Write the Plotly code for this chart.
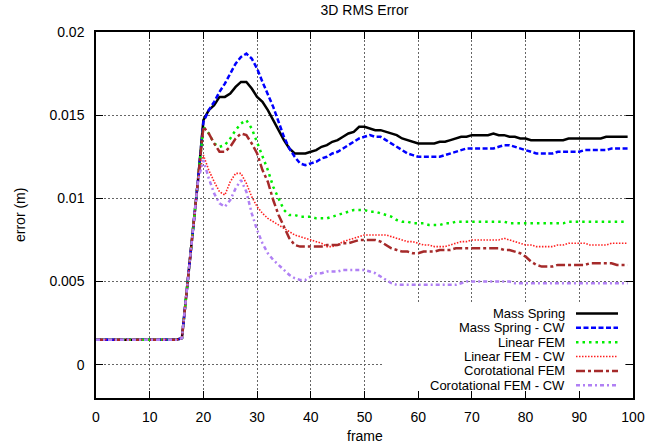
import plotly.graph_objects as go

frames = list(range(100))

start = [0.0015] * 16 + [0.0016, 0.0047, 0.0079, 0.0111]

mass_spring = start + [
    0.0147, 0.0153, 0.0156, 0.0161, 0.0161, 0.0163, 0.0167, 0.0170, 0.0170, 0.0166,
    0.0161, 0.0158, 0.0153, 0.0147, 0.0141, 0.0135, 0.0130, 0.0127, 0.0127, 0.0127,
    0.0128, 0.0129, 0.0131, 0.0132, 0.0134, 0.0135, 0.0137, 0.0139, 0.0140, 0.0143,
    0.0143, 0.0142, 0.0141, 0.0141, 0.0140, 0.0139, 0.0138, 0.0136, 0.0135, 0.0134,
    0.0133, 0.0133, 0.0133, 0.0133, 0.0134, 0.0134, 0.0135, 0.0136, 0.0137, 0.0137,
    0.0138, 0.0138, 0.0138, 0.0138, 0.0139, 0.0138, 0.0138, 0.0137, 0.0137, 0.0136,
    0.0136, 0.0135, 0.0135, 0.0135, 0.0135, 0.0135, 0.0135, 0.0135, 0.0136, 0.0136,
    0.0136, 0.0136, 0.0136, 0.0136, 0.0136, 0.0137, 0.0137, 0.0137, 0.0137, 0.0137,
]

mass_spring_cw = start + [
    0.0146, 0.0153, 0.0158, 0.0164, 0.0169, 0.0175, 0.0181, 0.0185, 0.0187, 0.0184,
    0.0178, 0.0170, 0.0163, 0.0155, 0.0146, 0.0137, 0.0130, 0.0125, 0.0121, 0.0120,
    0.0121, 0.0122, 0.0124, 0.0125, 0.0127, 0.0128, 0.0130, 0.0132, 0.0134, 0.0136,
    0.0137, 0.0138, 0.0137, 0.0137, 0.0135, 0.0133, 0.0131, 0.0129, 0.0127, 0.0126,
    0.0125, 0.0125, 0.0125, 0.0125, 0.0125, 0.0126, 0.0127, 0.0128, 0.0129, 0.0130,
    0.0130, 0.0130, 0.0130, 0.0130, 0.0130, 0.0131, 0.0132, 0.0132, 0.0131, 0.0130,
    0.0129, 0.0128, 0.0127, 0.0127, 0.0127, 0.0127, 0.0128, 0.0128, 0.0128, 0.0128,
    0.0128, 0.0129, 0.0129, 0.0129, 0.0129, 0.0129, 0.0130, 0.0130, 0.0130, 0.0130,
]

linear_fem = start + [
    0.0143, 0.0139, 0.0133, 0.0131, 0.0132, 0.0136, 0.0141, 0.0145, 0.0147, 0.0142,
    0.0134, 0.0125, 0.0117, 0.0107, 0.0100, 0.0093, 0.0090, 0.0090, 0.0089, 0.0089,
    0.0089, 0.0088, 0.0088, 0.0088, 0.0089, 0.0090, 0.0091, 0.0092, 0.0093, 0.0093,
    0.0093, 0.0092, 0.0092, 0.0091, 0.0090, 0.0089, 0.0087, 0.0086, 0.0086, 0.0085,
    0.0085, 0.0085, 0.0084, 0.0084, 0.0084, 0.0085, 0.0085, 0.0086, 0.0086, 0.0086,
    0.0086, 0.0086, 0.0086, 0.0086, 0.0086, 0.0086, 0.0086, 0.0085, 0.0085, 0.0085,
    0.0085, 0.0085, 0.0085, 0.0085, 0.0085, 0.0085, 0.0085, 0.0085, 0.0086, 0.0086,
    0.0086, 0.0086, 0.0086, 0.0086, 0.0086, 0.0086, 0.0086, 0.0086, 0.0086, 0.0086,
]

linear_fem_cw = start + [
    0.0126, 0.0117, 0.0110, 0.0104, 0.0102, 0.0110, 0.0115, 0.0115, 0.0109, 0.0101,
    0.0095, 0.0091, 0.0088, 0.0086, 0.0084, 0.0082, 0.0080, 0.0078, 0.0077, 0.0076,
    0.0075, 0.0074, 0.0073, 0.0071, 0.0071, 0.0072, 0.0074, 0.0075, 0.0076, 0.0077,
    0.0078, 0.0078, 0.0078, 0.0078, 0.0078, 0.0077, 0.0076, 0.0075, 0.0074, 0.0074,
    0.0073, 0.0072, 0.0072, 0.0071, 0.0071, 0.0071, 0.0072, 0.0073, 0.0074, 0.0074,
    0.0075, 0.0075, 0.0075, 0.0075, 0.0075, 0.0075, 0.0076, 0.0075, 0.0074, 0.0073,
    0.0072, 0.0072, 0.0071, 0.0071, 0.0071, 0.0071, 0.0072, 0.0072, 0.0073, 0.0073,
    0.0073, 0.0073, 0.0072, 0.0072, 0.0072, 0.0072, 0.0073, 0.0073, 0.0073, 0.0073,
]

corotational_fem = start + [
    0.0143, 0.0139, 0.0133, 0.0128, 0.0128, 0.0131, 0.0136, 0.0139, 0.0138, 0.0133,
    0.0127, 0.0117, 0.0110, 0.0099, 0.0090, 0.0083, 0.0076, 0.0072, 0.0071, 0.0071,
    0.0071, 0.0071, 0.0071, 0.0072, 0.0072, 0.0072, 0.0073, 0.0073, 0.0074, 0.0075,
    0.0075, 0.0075, 0.0075, 0.0074, 0.0072, 0.0070, 0.0069, 0.0068, 0.0068, 0.0067,
    0.0067, 0.0068, 0.0068, 0.0068, 0.0069, 0.0069, 0.0069, 0.0070, 0.0070, 0.0070,
    0.0070, 0.0070, 0.0070, 0.0070, 0.0070, 0.0070, 0.0069, 0.0069, 0.0068, 0.0067,
    0.0065, 0.0062, 0.0060, 0.0059, 0.0059, 0.0059, 0.0060, 0.0060, 0.0060, 0.0060,
    0.0060, 0.0060, 0.0061, 0.0061, 0.0061, 0.0061, 0.0061, 0.0060, 0.0060, 0.0060,
]

corotational_fem_cw = start + [
    0.0123, 0.0112, 0.0103, 0.0097, 0.0095, 0.0099, 0.0106, 0.0111, 0.0104, 0.0091,
    0.0081, 0.0073, 0.0067, 0.0063, 0.0060, 0.0057, 0.0054, 0.0052, 0.0051, 0.0051,
    0.0053, 0.0055, 0.0055, 0.0056, 0.0056, 0.0056, 0.0057, 0.0057, 0.0057, 0.0057,
    0.0057, 0.0056, 0.0055, 0.0053, 0.0051, 0.0049, 0.0048, 0.0048, 0.0048, 0.0048,
    0.0048, 0.0048, 0.0048, 0.0048, 0.0048, 0.0048, 0.0048, 0.0048, 0.0049, 0.0050,
    0.0050, 0.0050, 0.0050, 0.0050, 0.0050, 0.0050, 0.0050, 0.0050, 0.0049, 0.0049,
    0.0049, 0.0049, 0.0049, 0.0049, 0.0049, 0.0049, 0.0049, 0.0049, 0.0049, 0.0049,
    0.0049, 0.0049, 0.0049, 0.0049, 0.0049, 0.0049, 0.0049, 0.0049, 0.0049, 0.0049,
]

names = ["Mass Spring", "Mass Spring - CW", "Linear FEM", "Linear FEM - CW",
         "Corotational FEM", "Corotational FEM - CW"]
series = [mass_spring, mass_spring_cw, linear_fem, linear_fem_cw,
          corotational_fem, corotational_fem_cw]
colors = ["#000000", "#0000ff", "#00ee00", "#ff2020", "#a52a2a", "#b080f4"]
dashes = ["solid", "5px,2.5px", "2.5px,4px", "1.5px,1.5px", "9px,3px,3px,3px", "4px,3px,2px,3px"]
widths = [2.5, 2.5, 2.5, 1.6, 2.5, 2.5]

FONT = "Liberation Sans, Arial, sans-serif"
FS = 14
KEY_FS = 13  # key rows are only ~14 px apart

fig = go.Figure()
for name, ys, c, d, w in zip(names, series, colors, dashes, widths):
    fig.add_trace(go.Scatter(x=frames, y=ys, mode="lines", name=name,
                             line=dict(color=c, dash=d, width=w)))

# plot area in pixels (used to place the gnuplot-style key)
W, H = 667, 444
L, R, T, B = 96, 34, 32, 46
pw, ph = W - L - R, H - T - B

def px_x(x):
    return (x - L) / pw

def px_y(y):
    return (H - B - y) / ph

# opaque key box, kept clear of the inward ticks on the frame
shapes = [dict(type="rect", xref="paper", yref="paper",
               x0=px_x(383), x1=px_x(W - R - 8), y0=px_y(H - B - 8), y1=px_y(304),
               fillcolor="white", line=dict(width=0), layer="above")]
annotations = []
for i, (name, c, d, w) in enumerate(zip(names, colors, dashes, widths)):
    yy = px_y(313.5 + 14.35 * i)
    annotations.append(dict(text=name, xref="paper", yref="paper", x=px_x(567), y=yy,
                            xanchor="right", yanchor="middle", showarrow=False,
                            font=dict(family=FONT, size=KEY_FS, color="black")))
    shapes.append(dict(type="line", xref="paper", yref="paper",
                       x0=px_x(576), x1=px_x(618), y0=yy, y1=yy,
                       line=dict(color=c, dash=d, width=w), layer="above"))

annotations.append(dict(text="error (m)", xref="paper", yref="paper", x=0, y=0.5,
                        xanchor="center", yanchor="middle",
                        xshift=-(L - 20), textangle=-90, showarrow=False,
                        font=dict(family=FONT, size=FS, color="black")))
annotations.append(dict(text="frame", xref="paper", yref="paper", x=0.5, y=0,
                        xanchor="center", yanchor="middle",
                        yshift=-(436 - (H - B)), showarrow=False,
                        font=dict(family=FONT, size=FS, color="black")))

axis_common = dict(showline=True, linecolor="black", linewidth=1.5, mirror="allticks",
                   ticks="inside", ticklen=7, tickcolor="black", tickwidth=1,
                   showgrid=True, gridcolor="#666666", gridwidth=1, griddash="2px,2px",
                   zeroline=False, tickfont=dict(family=FONT, size=FS, color="black"))

fig.update_layout(
    width=W, height=H,
    margin=dict(l=L, r=R, t=T, b=B),
    paper_bgcolor="white", plot_bgcolor="white",
    showlegend=False,
    title=dict(text="3D RMS Error", x=(L + pw / 2) / W, xanchor="center",
               y=1 - 10 / H, yanchor="middle",
               font=dict(family=FONT, size=FS, color="black")),
    xaxis=dict(range=[0, 100], dtick=10, tick0=0, ticklabelstandoff=5, **axis_common),
    yaxis=dict(range=[-0.002, 0.02], dtick=0.005, tick0=0, ticklabelstandoff=7, **axis_common),
    shapes=shapes,
    annotations=annotations,
)

# drop the browser's default body margin so the figure sits at the page origin
fig.write_html("out.html", config={"displayModeBar": False},
               post_script="document.body.style.margin = '0px';")
